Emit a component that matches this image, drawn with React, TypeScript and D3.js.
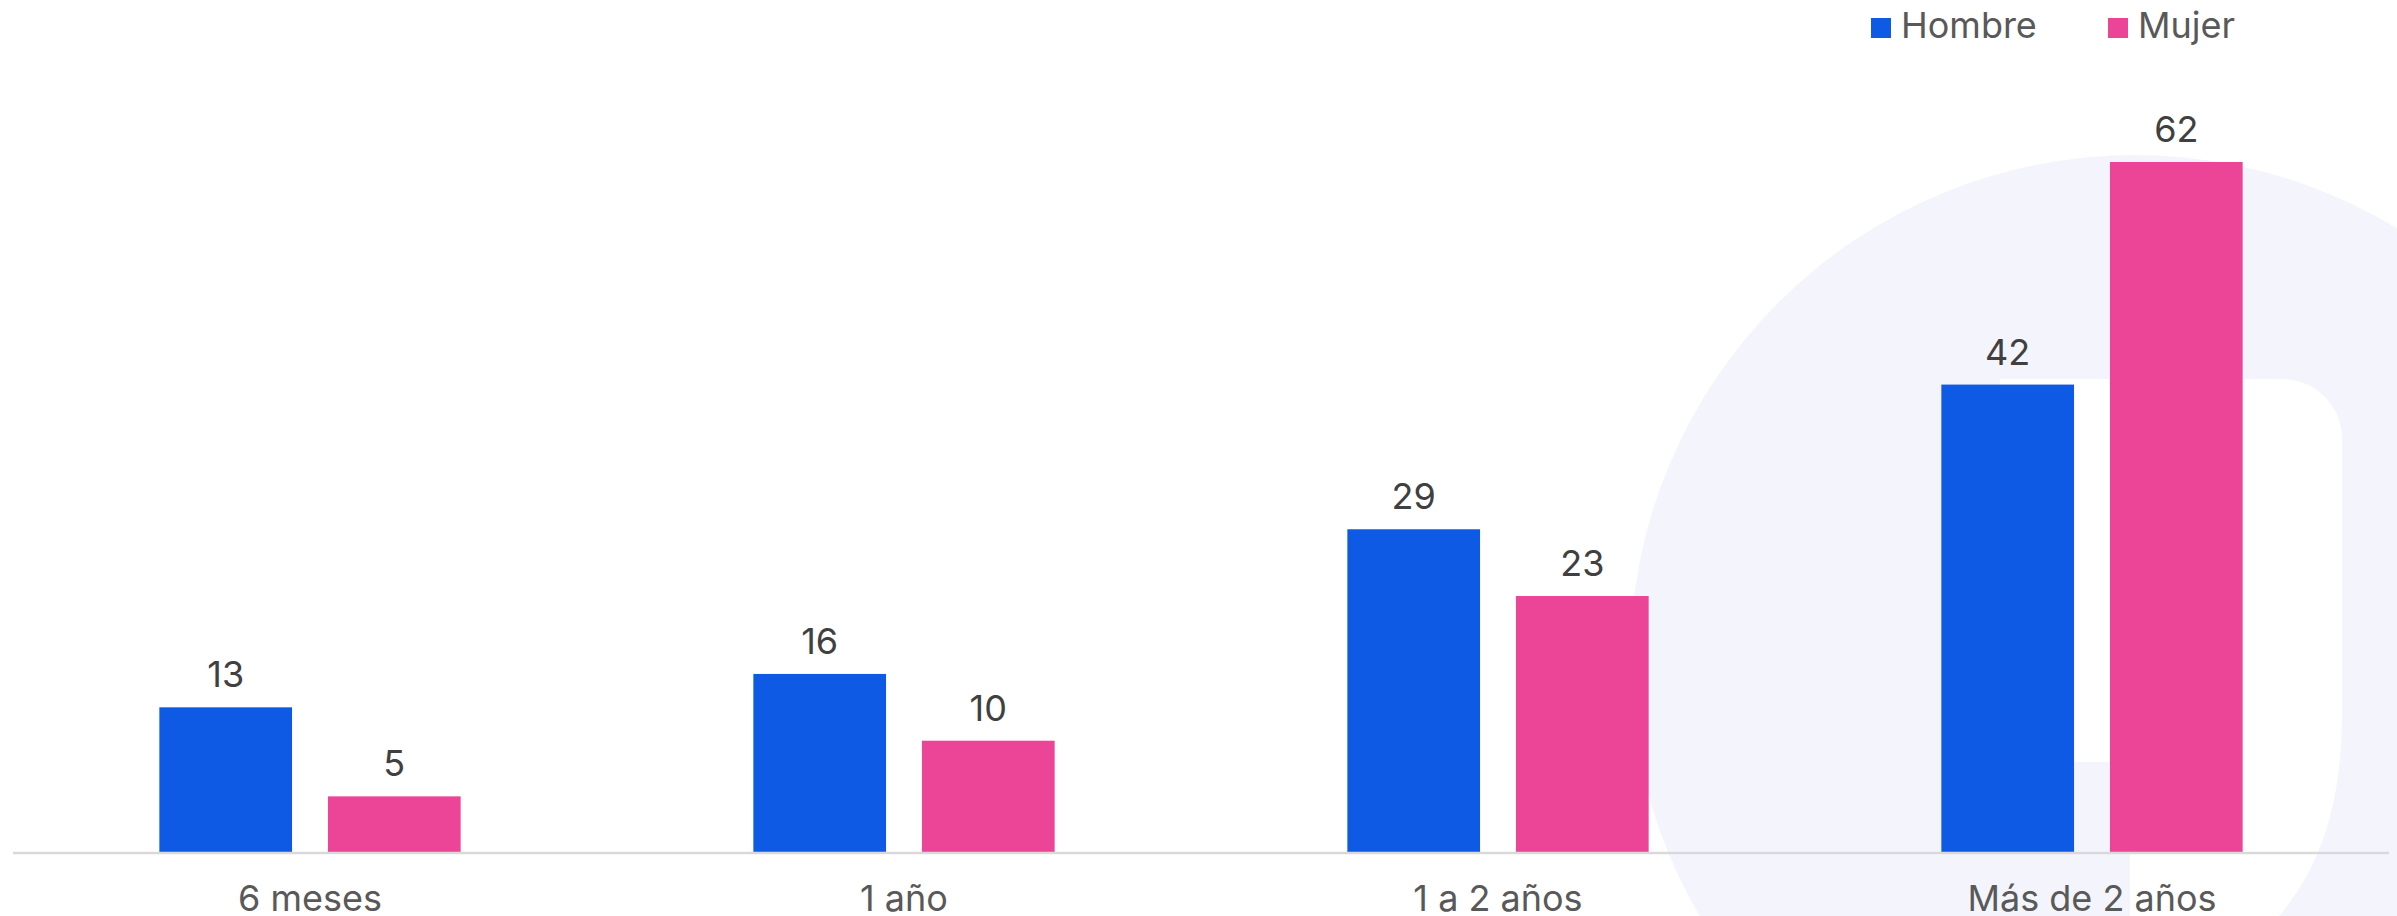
import { useEffect, useRef } from 'react';
import * as d3 from 'd3';

const categories = ['6 meses', '1 año', '1 a 2 años', 'Más de 2 años'];
const seriesNames = ['Hombre', 'Mujer'];
const hombre = [13, 16, 29, 42];
const mujer = [5, 10, 23, 62];
const seriesColors = ['#0F5AE5', '#EC4497'];

const W = 2397;
const H = 916;

export default function App() {
  const ref = useRef<SVGSVGElement | null>(null);

  useEffect(() => {
    document.body.style.margin = '0';
    if (!ref.current) return;
    const svg = d3.select(ref.current);
    svg.selectAll('*').remove();

    const font = 'Inter, "Open Sans", sans-serif';
    const baseY = 852;

    // faint logo watermark in the background
    svg.append('circle')
      .attr('cx', 2135)
      .attr('cy', 660)
      .attr('r', 505)
      .attr('fill', '#F4F5FC');
    svg.append('path')
      .attr('d', 'M2000,379 H2282 A60,60 0 0 1 2342,439 V713 C2342,800 2322,866 2279,916 H2130 V762 H2000 Z')
      .attr('fill', '#ffffff');

    const x0 = d3.scaleBand<string>().domain(categories).range([13, 2389]).padding(0);
    const x1 = d3.scaleBand<string>()
      .domain(seriesNames)
      .range([0, x0.bandwidth()])
      .paddingInner(0.213)
      .paddingOuter(0.868);
    const y = d3.scaleLinear().domain([0, 62]).range([baseY, 162]);

    const rows = categories.map((c, i) => ({ cat: c, values: [hombre[i], mujer[i]] }));

    const groups = svg.append('g')
      .selectAll('g')
      .data(rows)
      .join('g')
      .attr('transform', (d) => `translate(${x0(d.cat)},0)`);

    groups.selectAll('rect')
      .data((d) => d.values.map((v, k) => ({ key: seriesNames[k], v, k })))
      .join('rect')
      .attr('x', (d) => x1(d.key)!)
      .attr('y', (d) => y(d.v))
      .attr('width', x1.bandwidth())
      .attr('height', (d) => baseY - y(d.v))
      .attr('fill', (d) => seriesColors[d.k]);

    groups.selectAll('text.val')
      .data((d) => d.values.map((v, k) => ({ key: seriesNames[k], v })))
      .join('text')
      .attr('class', 'val')
      .attr('x', (d) => x1(d.key)! + x1.bandwidth() / 2)
      .attr('y', (d) => y(d.v) - 20)
      .attr('text-anchor', 'middle')
      .attr('font-family', font)
      .attr('font-size', 36)
      .attr('fill', '#404040')
      .text((d) => d.v);

    // axis baseline
    svg.append('line')
      .attr('x1', 13)
      .attr('x2', 2389)
      .attr('y1', baseY + 1)
      .attr('y2', baseY + 1)
      .attr('stroke', '#d9d9d9')
      .attr('stroke-width', 2.5);

    svg.append('g')
      .selectAll('text')
      .data(categories)
      .join('text')
      .attr('x', (d) => x0(d)! + x0.bandwidth() / 2)
      .attr('y', 911)
      .attr('text-anchor', 'middle')
      .attr('font-family', font)
      .attr('font-size', 36)
      .attr('fill', '#595959')
      .text((d) => d);

    // legend
    const legendX = [1871, 2108];
    const legend = svg.append('g')
      .selectAll('g')
      .data(seriesNames)
      .join('g')
      .attr('transform', (_, i) => `translate(${legendX[i]},18)`);
    legend.append('rect')
      .attr('width', 20)
      .attr('height', 20)
      .attr('fill', (_, i) => seriesColors[i]);
    legend.append('text')
      .attr('x', 30)
      .attr('y', 20)
      .attr('font-family', font)
      .attr('font-size', 36)
      .attr('fill', '#595959')
      .text((d) => d);
  }, []);

  return <svg ref={ref} width={W} height={H} viewBox={`0 0 ${W} ${H}`} style={{ display: 'block' }} />;
}
